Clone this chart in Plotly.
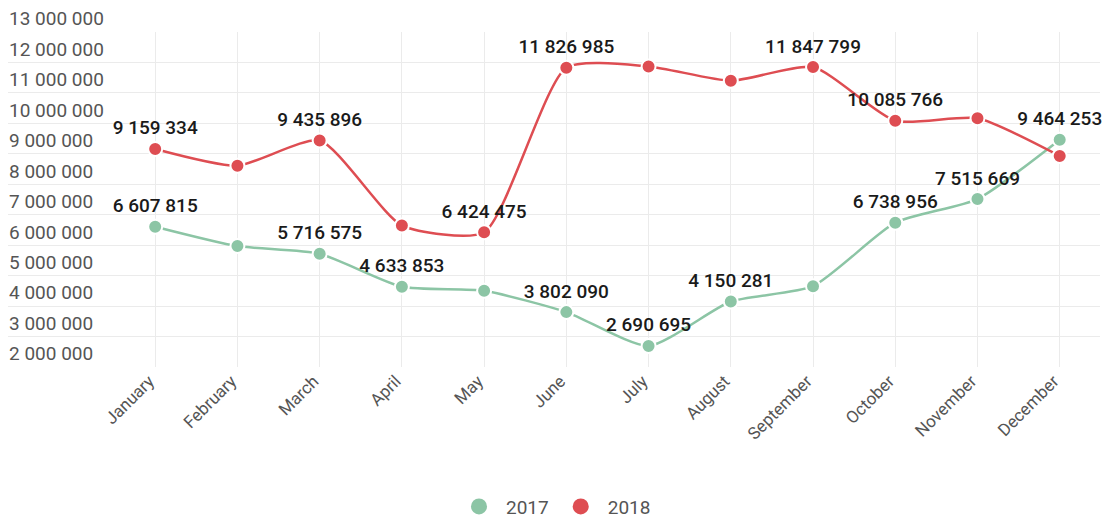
import plotly.graph_objects as go

months = ["January", "February", "March", "April", "May", "June", "July",
          "August", "September", "October", "November", "December"]
sales_2017 = [6607815, 5970000, 5716575, 4633853, 4500000, 3802090, 2690695,
              4150281, 4655000, 6738956, 7515669, 9464253]
sales_2018 = [9159334, 8610000, 9435896, 6650000, 6424475, 11826985, 11870000,
              11400000, 11847799, 10085766, 10170000, 8930000]
show_label_2017 = [1, 0, 1, 1, 0, 1, 1, 1, 0, 1, 1, 1]
show_label_2018 = [1, 0, 1, 0, 1, 1, 0, 0, 1, 1, 0, 0]
y_ticks = list(range(2000000, 13000001, 1000000))

GREEN = "#8cc5a5"
RED = "#de4d52"
FONT = "Roboto"


def fmt(v):
    return f"{v:,}".replace(",", " ")


fig = go.Figure()
for name, vals, flags, color in [("2017", sales_2017, show_label_2017, GREEN),
                                 ("2018", sales_2018, show_label_2018, RED)]:
    fig.add_trace(go.Scatter(
        x=months, y=vals, name=name, showlegend=False,
        mode="lines+markers+text",
        text=[fmt(v) if f else "" for v, f in zip(vals, flags)],
        textposition="top center",
        textfont=dict(family=FONT, size=19, color="#1a1a1a", weight=500),
        line=dict(color=color, width=2.5, shape="spline", smoothing=0.6),
        marker=dict(color=color, size=14, line=dict(color="white", width=2)),
        cliponaxis=False,
    ))
    fig.add_trace(go.Scatter(
        x=[None], y=[None], name=name, mode="markers",
        marker=dict(color=color, size=22), showlegend=True,
    ))

fig.update_layout(
    width=1104, height=518,
    margin=dict(l=8, r=4, t=32, b=151, autoexpand=False),
    paper_bgcolor="white", plot_bgcolor="white",
    separators=". ",
    font=dict(family=FONT, color="#555555"),
    legend=dict(orientation="h", x=0.5, xanchor="center",
                yref="container", y=0.022, yanchor="middle",
                font=dict(family=FONT, size=19, color="#555555"),
                itemsizing="trace", itemwidth=44),
)
fig.update_xaxes(
    type="category", range=[-1.79, 11.49], automargin=False,
    showgrid=True, gridcolor="#ebebeb", gridwidth=1,
    tickangle=-45, tickfont=dict(family=FONT, size=17, color="#555555"),
    ticklabelshift=-6,
    showline=False, zeroline=False, ticks="",
)
fig.update_yaxes(
    range=[2000000, 13000000], tickvals=y_ticks, automargin=False,
    ticktext=[fmt(v) for v in y_ticks],
    ticklabelposition="inside top", ticklabeloverflow="allow",
    ticklabelstandoff=-2,
    tickfont=dict(family=FONT, size=19, color="#555555"),
    showgrid=True, gridcolor="#ebebeb", gridwidth=1,
    zeroline=False, showline=False, ticks="",
)

fig.write_html("out.html", config={"displayModeBar": False},
               post_script="document.body.style.margin='0';document.body.style.overflow='hidden';")
